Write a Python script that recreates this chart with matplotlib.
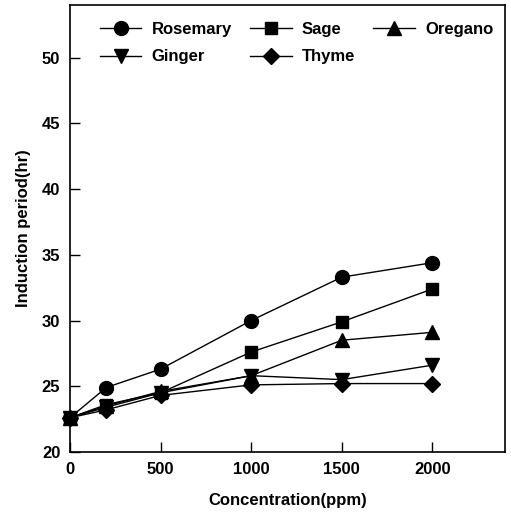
import matplotlib
matplotlib.use("Agg")
import matplotlib.pyplot as plt

plt.rcParams['font.family'] = ['Liberation Sans', 'DejaVu Sans']

conc = [0, 200, 500, 1000, 1500, 2000]
rosemary = [22.6, 24.9, 26.3, 30.0, 33.3, 34.4]
sage = [22.6, 23.6, 24.5, 27.6, 29.9, 32.4]
oregano = [22.6, 23.5, 24.6, 25.8, 28.5, 29.1]
ginger = [22.6, 23.4, 24.5, 25.8, 25.5, 26.6]
thyme = [22.6, 23.2, 24.3, 25.1, 25.2, 25.2]

fig = plt.figure(figsize=(5.11, 5.2), dpi=100)
ax = fig.add_axes([0.137, 0.131, 0.851, 0.859])

ms = 10
# order chosen so the 3-column legend reads row-wise like the original
ax.plot(conc, rosemary, 'k-o', ms=ms, lw=1, label='Rosemary', clip_on=False)
ax.plot(conc, ginger, 'k-v', ms=ms, lw=1, label='Ginger', clip_on=False)
ax.plot(conc, sage, 'k-s', ms=ms - 1, lw=1, label='Sage', clip_on=False)
ax.plot(conc, thyme, 'k-D', ms=ms - 2, lw=1, label='Thyme', clip_on=False)
ax.plot(conc, oregano, 'k-^', ms=ms, lw=1, label='Oregano', clip_on=False)

ax.set_xlim(0, 2400)
ax.set_ylim(20, 54)
ax.set_xticks([0, 500, 1000, 1500, 2000])
ax.set_yticks([20, 25, 30, 35, 40, 45, 50])
ax.tick_params(direction='in', length=7, labelsize=12, width=1, pad=7)
for t in ax.get_xticklabels() + ax.get_yticklabels():
    t.set_fontweight('bold')
for s in ax.spines.values():
    s.set_linewidth(1.2)

ax.set_xlabel('Concentration(ppm)', fontsize=12, fontweight='bold', labelpad=12)
ax.set_ylabel('Induction period(hr)', fontsize=12, fontweight='bold', labelpad=8)

leg = ax.legend(ncol=3, loc='upper left', bbox_to_anchor=(0.03, 1.0), frameon=False,
                handlelength=2.5, columnspacing=1.1, labelspacing=0.75,
                handletextpad=0.6, borderaxespad=0.6, prop={'weight': 'bold', 'size': 12})

fig.savefig('out.png', dpi=100)
